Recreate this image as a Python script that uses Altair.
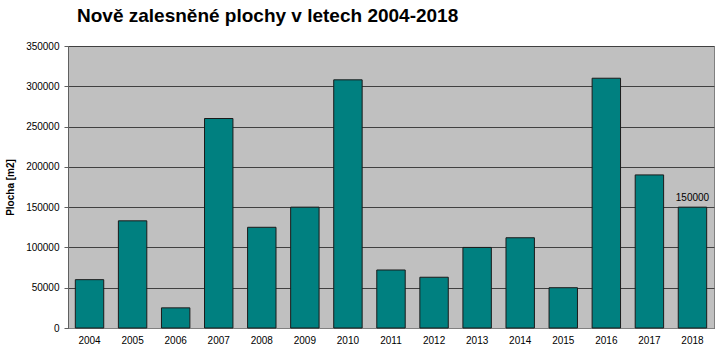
import altair as alt
import pandas as pd

years = ["2004", "2005", "2006", "2007", "2008", "2009", "2010", "2011",
         "2012", "2013", "2014", "2015", "2016", "2017", "2018"]
values = [60000, 133000, 25000, 260000, 125000, 150000, 308000, 72000,
          63000, 100000, 112000, 50000, 310000, 190000, 150000]
labelled = ["2018"]

df = pd.DataFrame({"rok": years, "plocha": values})
df["label"] = [str(v) if y in labelled else "" for y, v in zip(years, values)]

x = alt.X("rok:N", sort=years, title=None,
          scale=alt.Scale(paddingInner=0.34, paddingOuter=0.17),
          axis=alt.Axis(labelAngle=0, labelFont="Liberation Sans", labelFontSize=10,
                        labelColor="#000000", ticks=False, domainColor="#808080",
                        labelPadding=7))
y = alt.Y("plocha:Q", title="Plocha [m2]",
          scale=alt.Scale(domain=[0, 350000], nice=False),
          axis=alt.Axis(values=list(range(0, 350001, 50000)), labelFont="Liberation Sans",
                        labelFontSize=10, labelColor="#000000", format="d",
                        tickColor="#606060", tickSize=4, domainColor="#606060",
                        titleFont="Liberation Sans", titleFontSize=10, titleFontWeight="bold",
                        titleColor="#000000", titlePadding=10,
                        grid=True, gridColor="#404040", gridWidth=1, labelPadding=5))

bars = alt.Chart(df).mark_bar(color="#008080", stroke="#1a1a1a", strokeWidth=1).encode(x=x, y=y)
text = alt.Chart(df).mark_text(dy=-9, font="Liberation Sans", fontSize=10, color="#000000").encode(
    x=alt.X("rok:N", sort=years), y="plocha:Q", text="label:N")

chart = (bars + text).properties(
    width=646, height=282,
    title=alt.TitleParams("Nově zalesněné plochy v letech 2004-2018", anchor="start",
                          font="Liberation Sans", fontSize=19, fontWeight="bold",
                          color="#000000", offset=15, dx=9, frame="group"),
    autosize=alt.AutoSizeParams(type="none"),
    padding={"left": 68, "top": 46, "right": 6, "bottom": 25},
    background="#ffffff",
).configure_view(fill="#C0C0C0", stroke="#808080", strokeWidth=1)

chart.save("out.html", embed_options={"renderer": "svg", "actions": False})
